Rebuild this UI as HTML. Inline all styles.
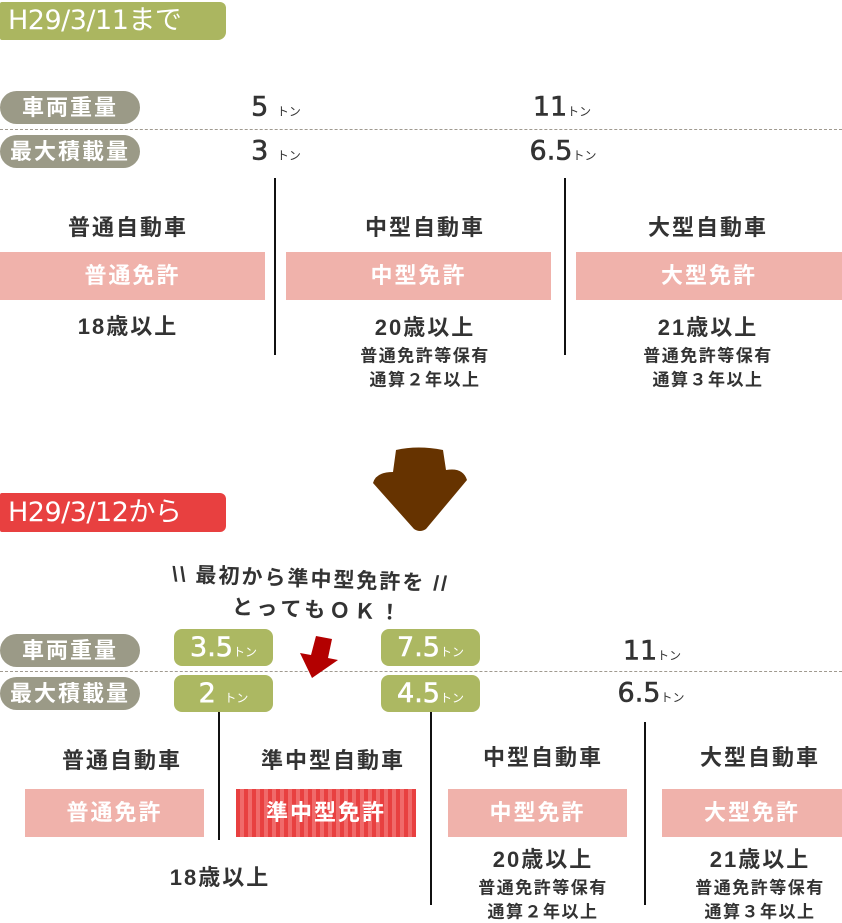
<!DOCTYPE html>
<html><head><meta charset="utf-8"><style>
body{margin:0;width:842px;height:921px;position:relative;overflow:hidden;background:#fff;font-family:"Liberation Sans","Noto Sans CJK JP",sans-serif;color:#333}
.a{position:absolute}
.c{position:absolute;transform:translate(-50%,-50%);white-space:nowrap;font-weight:bold}
.pill{position:absolute;left:0;width:140px;height:33px;border-radius:17px;background:#9b9a87;color:#fff;font-weight:bold;font-size:22px;letter-spacing:2px;line-height:33px;text-align:center}
.dash{position:absolute;left:0;width:842px;border-top:1px dashed #a09a90}
.v{position:absolute;width:2px;background:#111}
.box{position:absolute;height:48px;background:#f0b2ab;color:#fff;font-weight:bold;font-size:22px;letter-spacing:2px;line-height:48px;text-align:center}
.num{position:absolute;transform:translate(-50%,-50%);font-family:"DejaVu Sans",sans-serif;font-size:27px;white-space:nowrap;color:#333;-webkit-text-stroke:0.6px #333}
.num small,.g small{font-size:12px;font-family:"Liberation Sans","Noto Sans CJK JP",sans-serif;-webkit-text-stroke:0}
.g{position:absolute;width:99px;height:37px;border-radius:8px;background:#acb862;color:#fff;font-family:"DejaVu Sans",sans-serif;font-size:27px;line-height:37px;text-align:center;-webkit-text-stroke:0.6px #fff}
.t{font-size:22px;letter-spacing:2px}
.s{font-size:17px;letter-spacing:1.5px}
.ban{position:absolute;left:8px;font-size:27px;color:#fff;line-height:36px;font-family:'DejaVu Sans','Noto Sans CJK JP',sans-serif;white-space:nowrap;letter-spacing:-0.5px}
</style></head><body>
<div class="a" style="left:0;top:2px;width:226px;height:38px;background:#abb660;border-radius:2px 6px 8px 2px"></div>
<div class="ban" style="top:3px">H29/3/11まで</div>

<div class="pill" style="top:91px">車両重量</div>
<div class="dash" style="top:129px"></div>
<div class="pill" style="top:135px">最大積載量</div>
<div class="num" style="left:276px;top:107px">5 <small>トン</small></div>
<div class="num" style="left:562px;top:107px">11<small>トン</small></div>
<div class="num" style="left:276px;top:151px">3 <small>トン</small></div>
<div class="num" style="left:563px;top:151px">6.5<small>トン</small></div>
<div class="v" style="left:274px;top:178px;height:177px"></div>
<div class="v" style="left:564px;top:178px;height:177px"></div>
<div class="c t" style="left:128px;top:226px">普通自動車</div>
<div class="c t" style="left:425px;top:226px">中型自動車</div>
<div class="c t" style="left:708px;top:226px">大型自動車</div>
<div class="box" style="left:0;top:252px;width:265px">普通免許</div>
<div class="box" style="left:286px;top:252px;width:265px">中型免許</div>
<div class="box" style="left:576px;top:252px;width:266px">大型免許</div>
<div class="c t" style="left:128px;top:325px">18歳以上</div>
<div class="c t" style="left:425px;top:326px">20歳以上</div>
<div class="c s" style="left:425px;top:354px">普通免許等保有</div>
<div class="c s" style="left:425px;top:378px">通算２年以上</div>
<div class="c t" style="left:708px;top:326px">21歳以上</div>
<div class="c s" style="left:708px;top:354px">普通免許等保有</div>
<div class="c s" style="left:708px;top:378px">通算３年以上</div>

<svg class="a" style="left:368px;top:445px" width="105" height="88"><path d="M28 5 Q50 0 75 5 L78 25 Q95 22 99 35 L58 84 Q52 88 46 84 L5 38 Q8 27 25 27 Z" fill="#663300"/></svg>

<div class="a" style="left:0;top:493px;width:226px;height:39px;background:#e84040;border-radius:2px 6px 6px 2px"></div>
<div class="ban" style="top:495px">H29/3/12から</div>

<div class="a" style="left:172px;top:563px;font-size:21px;letter-spacing:2px;font-weight:bold;color:#333;transform:rotate(2deg);white-space:nowrap">\\ 最初から準中型免許を //</div>
<div class="a" style="left:232px;top:594px;font-size:21px;font-weight:bold;color:#333;letter-spacing:4px;transform:rotate(2deg);white-space:nowrap">とってもＯＫ！</div>

<div class="pill" style="top:634px">車両重量</div>
<div class="dash" style="top:671px"></div>
<div class="pill" style="top:677px">最大積載量</div>
<div class="g" style="left:174px;top:629px">3.5<small>トン</small></div>
<div class="g" style="left:174px;top:675px">2 <small>トン</small></div>
<div class="g" style="left:381px;top:629px">7.5<small>トン</small></div>
<div class="g" style="left:381px;top:675px">4.5<small>トン</small></div>
<svg class="a" style="left:296px;top:634px" width="48" height="46"><path d="M20 2 L36 5 L32 24 L42 26 L16 44 L4 19 L15 21 Z" fill="#b30000"/></svg>
<div class="num" style="left:652px;top:651px">11<small>トン</small></div>
<div class="num" style="left:651px;top:693px">6.5<small>トン</small></div>

<div class="v" style="left:218px;top:712px;height:128px"></div>
<div class="v" style="left:430px;top:712px;height:193px"></div>
<div class="v" style="left:644px;top:722px;height:183px"></div>
<div class="c t" style="left:122px;top:759px">普通自動車</div>
<div class="c t" style="left:333px;top:759px">準中型自動車</div>
<div class="c t" style="left:543px;top:756px">中型自動車</div>
<div class="c t" style="left:760px;top:756px">大型自動車</div>
<div class="box" style="left:25px;top:789px;width:179px">普通免許</div>
<div class="box" style="left:236px;top:789px;width:180px;background:repeating-linear-gradient(90deg,#e84040 0 4px,#f06a6a 4px 8px)">準中型免許</div>
<div class="box" style="left:448px;top:789px;width:179px">中型免許</div>
<div class="box" style="left:662px;top:789px;width:180px">大型免許</div>
<div class="c t" style="left:220px;top:876px">18歳以上</div>
<div class="c t" style="left:543px;top:858px">20歳以上</div>
<div class="c s" style="left:543px;top:886px">普通免許等保有</div>
<div class="c s" style="left:543px;top:910px">通算２年以上</div>
<div class="c t" style="left:760px;top:858px">21歳以上</div>
<div class="c s" style="left:760px;top:886px">普通免許等保有</div>
<div class="c s" style="left:760px;top:910px">通算３年以上</div>
</body></html>
